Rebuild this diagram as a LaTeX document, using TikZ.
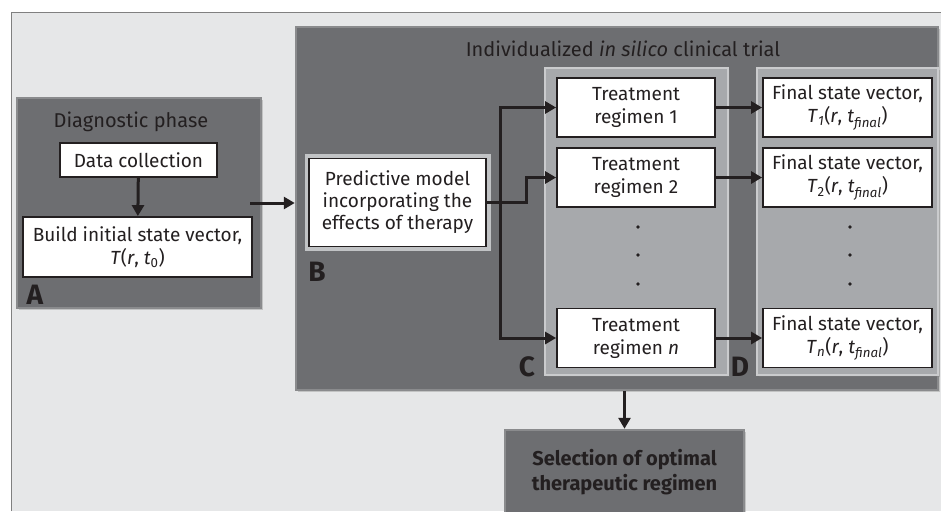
\documentclass[tikz,border=0pt]{standalone}
\usepackage{fontspec}
\setmainfont{Fira Sans}
\usetikzlibrary{arrows.meta,shadows}
\definecolor{bggray}{HTML}{E6E7E8}
\definecolor{boxgray}{HTML}{6D6E71}
\definecolor{panelgray}{HTML}{A7A9AC}
\definecolor{ink}{HTML}{231F20}
\tikzset{
  darkbox/.style={fill=boxgray, draw=boxgray!80!white, line width=2.5pt,
    drop shadow={shadow xshift=2pt, shadow yshift=-2pt, opacity=.35}},
  panel/.style={fill=panelgray, draw=panelgray!60!white, line width=2.5pt,
    drop shadow={shadow xshift=2pt, shadow yshift=-2pt, opacity=.35}},
  whitebox/.style={fill=white, draw=ink, line width=1.8pt, align=center,
    text=ink, inner sep=0pt, font=\fontsize{19}{23}\selectfont},
  predbox/.style={whitebox, preaction={draw=panelgray!70!white, line width=9pt}},
  arr/.style={draw=ink, line width=3pt, -{Triangle[length=11pt,width=12pt]}},
  link/.style={draw=ink, line width=3pt},
  tag/.style={inner sep=0pt, text=ink, font=\fontsize{28}{28}\selectfont\bfseries},
  ttl/.style={inner sep=0pt, text=ink, font=\fontsize{20}{22}\selectfont},
  dot/.style={circle, fill=ink, inner sep=0pt, minimum size=3.8pt}
}
\newcommand{\vecT}[1]{\textit{T}\textsubscript{#1}(\textit{r}, \textit{t}\textsubscript{\textit{f{}inal}})}
\begin{document}
\begin{tikzpicture}[x=1pt,y=-1pt]
\useasboundingbox (0,0) rectangle (941,511);
\clip (0,0) rectangle (941,511);
\fill[bggray] (11,13) rectangle (941,511);
\draw[gray, line width=1pt] (11,511) -- (11,13) -- (941,13);

% diagnostic phase
\node[darkbox, minimum width=244, minimum height=210] (diag) at (139,203) {};
\node[ttl] (diagttl) at (131,122) {Diagnostic phase};
\node[whitebox, minimum width=157, minimum height=34] (data) at (138.5,160) {Data collection};
\node[whitebox, minimum width=229, minimum height=60] (build) at (137.5,247)
  {Build initial state vector,\\ \textit{T}(\textit{r}, \textit{t}\textsubscript{0})};
\node[tag] (tagA) at (35,295) {A};

% in silico trial
\node[darkbox, minimum width=642, minimum height=363] (trial) at (617,208.5) {};
\node[ttl] (trialttl) at (623,49) {Individualized \textit{in silico} clinical trial};
\node[predbox, minimum width=177, minimum height=88, font=\fontsize{19}{22}\selectfont] (pred) at (397.5,202.5)
  {Predictive model\\ incorporating the\\ effects of therapy};
\node[tag] (tagB) at (317,272) {B};

\node[panel, minimum width=183, minimum height=307] (panelC) at (636.5,221.5) {};
\node[panel, minimum width=181, minimum height=307] (panelD) at (847.5,221.5) {};
\node[tag] (tagC) at (527,367) {C};
\node[tag] (tagD) at (740,367) {D};

\node[whitebox, minimum width=158, minimum height=59] (treat1) at (636,107.5) {Treatment\\ regimen 1};
\node[whitebox, minimum width=158, minimum height=59] (treat2) at (636,177.5) {Treatment\\ regimen 2};
\node[whitebox, minimum width=158, minimum height=59] (treatn) at (636,338) {Treatment\\ regimen \textit{n}};
\node[whitebox, minimum width=169, minimum height=59] (final1) at (847.5,107.5) {Final state vector,\\ \vecT{\textit{1}}};
\node[whitebox, minimum width=169, minimum height=59] (final2) at (847.5,177.5) {Final state vector,\\ \vecT{2}};
\node[whitebox, minimum width=169, minimum height=59] (finaln) at (847.5,338) {Final state vector,\\ \vecT{\textit{n}}};

\foreach \y [count=\i] in {227,255,284} {
  \node[dot] (dc\i) at (638,\y) {};
  \node[dot] (dd\i) at (850,\y) {};
}

% selection
\node[darkbox, minimum width=239, minimum height=84, align=center, text=ink,
  font=\fontsize{20}{25}\selectfont\bfseries] (select) at (624.5,472)
  {Selection of optimal\\ therapeutic regimen};

% connectors
\coordinate (split) at (500,202.5);
\draw[arr] (data) -- (build);
\draw[arr] ([xshift=-12pt]diag.east) -- (diag.east -| trial.west);
\draw[link] (pred.east) -- (split);
\draw[arr] (split) |- (treat1.west);
\draw[arr] (split) |- (treatn.west);
\draw[arr] (pred.east) -- ++(40,0) |- (treat2.west);
\draw[arr] (treat1) -- (final1);
\draw[arr] (treat2) -- (final2);
\draw[arr] (treatn) -- (finaln);
\draw[arr] (select.north |- trial.south) -- (select.north);
\end{tikzpicture}
\end{document}
